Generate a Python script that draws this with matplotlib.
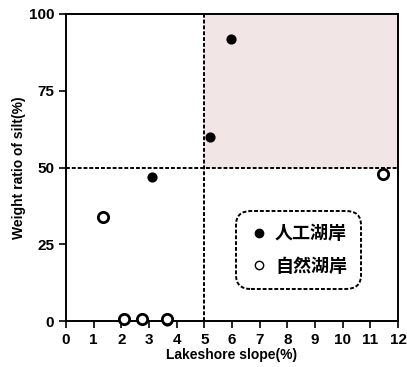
import matplotlib
matplotlib.use('Agg')
import matplotlib.pyplot as plt
from matplotlib.lines import Line2D

plt.rcParams['font.family'] = ['Liberation Sans', 'Noto Sans CJK JP', 'DejaVu Sans']

# Данные
artificial_x = [3.1, 5.2, 5.95, 3.65]
artificial_y = [47, 60, 92, 0]
natural_x = [1.35, 2.1, 2.75, 3.65, 11.45]
natural_y = [34, 0.7, 0.7, 0.7, 48]

x_ticks = list(range(0, 13))
y_ticks = [0, 25, 50, 75, 100]
legend_labels = ['人工湖岸', '自然湖岸']

fig = plt.figure(figsize=(4.07, 3.67), dpi=100)
ax = fig.add_axes([0.162, 0.125, 0.816, 0.837])

# Заштрихованная область
ax.axvspan(5, 12, ymin=0.5, ymax=1.0, facecolor='#f1e5e5', edgecolor='none', zorder=0)

# Пунктирные линии
ax.axvline(5, color='black', linestyle=(0, (2, 1)), linewidth=1.4, zorder=1)
ax.axhline(50, color='black', linestyle=(0, (2, 1)), linewidth=1.4, zorder=1)

ax.scatter(artificial_x, artificial_y, s=40, color='black', zorder=3, clip_on=False)
ax.scatter(natural_x, natural_y, s=55, facecolor='white', edgecolor='black',
           linewidths=2, zorder=4, clip_on=False)

ax.set_xlim(0, 12)
ax.set_ylim(0, 100)
ax.set_xticks(x_ticks)
ax.set_yticks(y_ticks)
ax.tick_params(direction='out', length=5, width=1.2, labelsize=11)
for lab in ax.get_xticklabels() + ax.get_yticklabels():
    lab.set_fontweight('bold')
for sp in ax.spines.values():
    sp.set_linewidth(1.4)

ax.set_xlabel('Lakeshore slope(%)', fontsize=10, fontweight='bold', labelpad=1)
ax.set_ylabel('Weight ratio of silt(%)', fontsize=10, fontweight='bold', labelpad=2)

handles = [
    Line2D([], [], marker='o', linestyle='none', markerfacecolor='black',
           markeredgecolor='black', markersize=6),
    Line2D([], [], marker='o', linestyle='none', markerfacecolor='white',
           markeredgecolor='black', markersize=6, markeredgewidth=1),
]
leg = ax.legend(handles, legend_labels, loc='center', bbox_to_anchor=(0.70, 0.232),
                prop={'family': ['Noto Sans CJK JP'], 'weight': 'bold', 'size': 13},
                frameon=True, fancybox=True, handletextpad=0.4, labelspacing=0.75,
                borderpad=0.55, handlelength=1.0)
frame = leg.get_frame()
frame.set_linestyle((0, (2, 1)))
frame.set_linewidth(1.4)
frame.set_edgecolor('black')
frame.set_facecolor('white')
frame.set_alpha(1)
frame.set_boxstyle('round,pad=0.2,rounding_size=0.8')

fig.savefig('out.png', dpi=100)
